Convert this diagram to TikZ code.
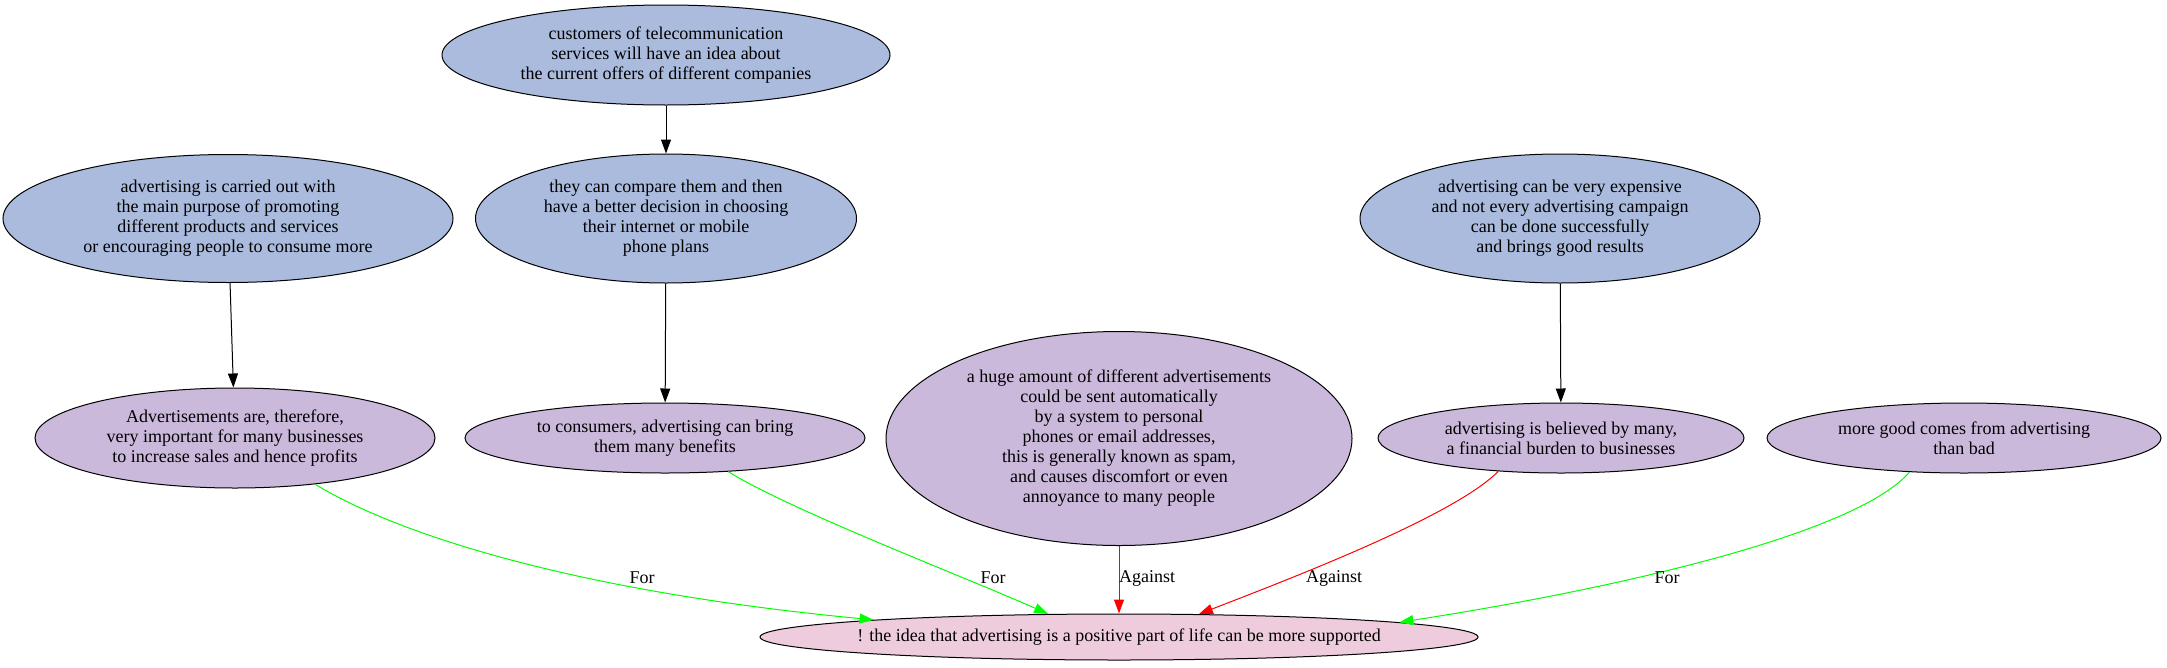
\documentclass[tikz,border=0pt]{standalone}
\usepackage{fontspec}
\setmainfont{Liberation Serif}
\usetikzlibrary{arrows.meta,shapes.geometric}
\definecolor{blueN}{RGB}{170,187,221}
\definecolor{purpN}{RGB}{203,185,219}
\definecolor{pinkN}{RGB}{238,204,221}
\definecolor{forC}{RGB}{0,255,0}
\definecolor{agC}{RGB}{255,0,0}
\tikzset{
  gnode/.style={ellipse, draw=black, line width=1pt, inner sep=0pt, align=center,
    font=\fontsize{18}{20}\selectfont},
  premise/.style={gnode, fill=blueN},
  claim/.style={gnode, fill=purpN},
  concl/.style={gnode, fill=pinkN},
  edge/.style={line width=1pt, -{Triangle[length=14pt,width=10pt]}},
  foredge/.style={edge, draw=forC},
  agedge/.style={edge, draw=agC},
  elabel/.style={inner sep=0pt, font=\fontsize{18}{20}\selectfont},
}
\begin{document}
\begin{tikzpicture}[x=1pt,y=-1pt]
\useasboundingbox (0,0) rectangle (2167,667);
% top premises
\node[premise, minimum width=448pt, minimum height=100pt] (T) at (666,55)
  {customers of telecommunication\\services will have an idea about\\the current offers of different companies};
\node[premise, minimum width=450pt, minimum height=128pt] (A1) at (228,218.5)
  {advertising is carried out with\\the main purpose of promoting\\different products and services\\or encouraging people to consume more};
\node[premise, minimum width=381pt, minimum height=129pt] (A2) at (666,218.5)
  {they can compare them and then\\have a better decision in choosing\\their internet or mobile\\phone plans};
\node[premise, minimum width=400pt, minimum height=129pt] (A3) at (1560,218.5)
  {advertising can be very expensive\\and not every advertising campaign\\can be done successfully\\and brings good results};
% claims
\node[claim, minimum width=400pt, minimum height=100pt] (B1) at (235,438)
  {Advertisements are, therefore,\\very important for many businesses\\to increase sales and hence profits};
\node[claim, minimum width=400pt, minimum height=70pt] (B2) at (665,438)
  {to consumers, advertising can bring\\them many benefits};
\node[claim, minimum width=466pt, minimum height=214pt] (S) at (1119,438.5)
  {a huge amount of different advertisements\\could be sent automatically\\by a system to personal\\phones or email addresses,\\this is generally known as spam,\\and causes discomfort or even\\annoyance to many people};
\node[claim, minimum width=366pt, minimum height=70pt] (B3) at (1561,438)
  {advertising is believed by many,\\a financial burden to businesses};
\node[claim, minimum width=394pt, minimum height=70pt] (B4) at (1964,438)
  {more good comes from advertising\\than bad};
% conclusion
\node[concl, minimum width=718pt, minimum height=46pt] (C) at (1119,637)
  {\makebox[0pt]{! the idea that advertising is a positive part of life can be more supported}};
% support edges
\draw[edge] (T) -- (A2);
\draw[edge] (A1) -- (B1);
\draw[edge] (A2) -- (B2);
\draw[edge] (A3) -- (B3);
% argument edges
\draw[foredge] (B1.-30.2) .. controls (390,530) and (560,590) .. (C.176.7);
\draw[foredge] (B2.-28.2) .. controls (790,510) and (960,575) .. (C.162.6);
\draw[agedge] (S) -- (C);
\draw[agedge] (B3.208.8) .. controls (1455,515) and (1300,575) .. (C.16.5);
\draw[foredge] (B4.212) .. controls (1860,530) and (1640,585) .. (C.3.6);
% labels
\node[elabel] (l1) at (642,578) {For};
\node[elabel] (l2) at (993,578) {For};
\node[elabel, anchor=west] (l3) at (1119,578) {Against};
\node[elabel] (l4) at (1334,578) {Against};
\node[elabel] (l5) at (1667,578) {For};
\end{tikzpicture}
\end{document}
